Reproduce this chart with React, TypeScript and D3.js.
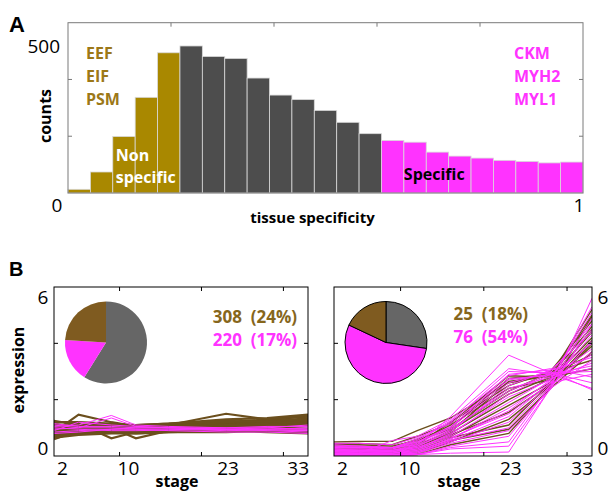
import React, { useEffect, useRef } from "react";
import * as d3 from "d3";

// panel A histogram (23 bins over tissue specificity 0..1)
const binCounts = [13, 74, 199, 337, 494, 518, 481, 474, 405, 345, 329, 291, 249, 209, 185, 179, 144, 130, 123, 115, 111, 106, 109];
const binGroup = ["non", "non", "non", "non", "non", "mid", "mid", "mid", "mid", "mid", "mid", "mid", "mid", "mid", "spec", "spec", "spec", "spec", "spec", "spec", "spec", "spec", "spec"];
const nonGenes = ["EEF", "EIF", "PSM"];
const specGenes = ["CKM", "MYH2", "MYL1"];

// panel B
const stages = [2, 5, 9, 12, 16, 23, 28, 33];
const stageTicks = [10, 20, 30];
const stageLabels = [2, 10, 23, 33];

const leftGold = [
  [1.25, 1.1, 1.05, 1.0, 1.05, 1.15, 1.25, 1.45],
  [0.6, 0.9, 0.95, 0.9, 0.95, 1.05, 1.1, 1.2],
  [0.85, 1.47, 1.2, 1.05, 1.1, 1.2, 1.3, 1.4],
  [1.0, 1.15, 0.63, 0.85, 0.95, 1.1, 1.2, 1.35],
  [0.9, 0.95, 1.0, 0.63, 0.9, 1.05, 1.15, 1.3],
  [1.1, 1.05, 1.1, 1.05, 1.1, 1.5, 1.3, 1.42],
  [0.75, 0.85, 0.9, 0.95, 1.0, 1.0, 1.05, 1.1],
  [1.2, 1.2, 1.15, 1.1, 1.15, 1.3, 1.35, 1.47],
  [0.95, 1.0, 0.95, 0.9, 0.95, 0.95, 1.0, 1.05],
  [0.7, 0.8, 0.85, 0.85, 0.9, 0.9, 0.95, 0.95],
  [1.05, 1.1, 1.1, 1.0, 1.05, 1.2, 1.25, 1.3],
  [0.8, 0.9, 0.85, 0.8, 0.85, 0.85, 0.9, 0.85],
  [1.15, 1.0, 1.05, 1.1, 1.15, 1.25, 1.2, 1.25],
  [0.65, 0.75, 0.8, 0.8, 0.85, 0.9, 0.85, 0.8],
  [1.0, 1.05, 1.0, 0.95, 1.05, 1.1, 1.15, 1.2],
  [0.9, 0.85, 0.95, 1.0, 1.0, 1.05, 1.1, 1.15],
];
const leftPink = [
  [1.05, 1.1, 1.44, 1.1, 1.05, 1.0, 1.05, 1.05],
  [0.95, 1.0, 1.35, 1.05, 1.0, 1.0, 1.0, 0.95],
  [1.15, 1.05, 1.05, 1.0, 1.0, 0.95, 1.0, 1.1],
  [0.85, 0.9, 0.95, 0.95, 0.95, 0.9, 0.92, 0.9],
  [1.0, 0.95, 0.9, 0.9, 0.92, 0.95, 0.95, 1.0],
  [0.9, 1.2, 1.1, 1.05, 1.0, 0.95, 0.9, 0.85],
  [1.1, 1.0, 1.0, 0.95, 0.9, 0.85, 0.85, 0.8],
  [0.8, 0.85, 0.95, 1.0, 1.0, 0.95, 0.95, 0.95],
];
const rightGold = [
  [0.5, 0.52, 0.52, 0.9, 1.35, 2.6, 2.85, 4.6],
  [0.3, 0.3, 0.25, 0.5, 1.1, 2.4, 2.7, 4.2],
  [0.2, 0.2, 0.15, 0.35, 0.9, 2.2, 2.8, 5.0],
  [0.1, 0.1, 0.1, 0.25, 0.8, 2.0, 2.75, 4.4],
  [0.35, 0.35, 0.3, 0.6, 1.0, 2.75, 2.9, 3.6],
  [0.15, 0.15, 0.2, 0.3, 0.7, 1.8, 2.6, 3.9],
  [0.25, 0.25, 0.2, 0.4, 1.2, 2.5, 3.0, 4.8],
  [0.05, 0.05, 0.05, 0.1, 0.5, 1.3, 2.5, 4.0],
  [0.4, 0.4, 0.35, 0.55, 0.95, 2.3, 2.95, 3.4],
  [0.1, 0.1, 0.05, 0.15, 0.55, 0.95, 2.4, 3.7],
  [0.2, 0.2, 0.15, 0.3, 0.85, 2.65, 2.85, 5.2],
  [0.3, 0.25, 0.25, 0.45, 0.75, 1.55, 2.55, 4.1],
  [0.15, 0.15, 0.1, 0.2, 0.65, 1.1, 2.6, 4.5],
  [0.45, 0.45, 0.4, 0.7, 1.15, 2.85, 2.8, 3.1],
  [0.05, 0.05, 0.05, 0.05, 0.4, 0.8, 2.45, 4.95],
];
const rightPink = [
  [0.2, 0.2, 0.2, 0.4, 1.4, 3.58, 2.95, 3.0],
  [0.1, 0.1, 0.55, 0.7, 1.3, 3.1, 2.9, 3.2],
  [0.05, 0.05, 0.05, 0.05, 0.1, 0.14, 2.4, 5.6],
  [0.3, 0.3, 0.3, 0.55, 1.2, 3.0, 2.95, 2.6],
  [0.15, 0.1, 0.1, 0.2, 0.6, 1.6, 2.7, 5.1],
  [0.25, 0.25, 0.25, 0.5, 1.0, 2.9, 3.05, 3.5],
  [0.05, 0.05, 0.05, 0.1, 0.45, 0.9, 2.35, 4.7],
  [0.4, 0.35, 0.3, 0.5, 1.05, 2.7, 2.9, 2.4],
  [0.1, 0.1, 0.05, 0.1, 0.55, 1.4, 2.6, 4.3],
  [0.2, 0.2, 0.15, 0.35, 0.9, 2.4, 2.8, 3.8],
  [0.0, 0.0, 0.0, 0.05, 0.3, 0.5, 2.5, 4.9],
  [0.35, 0.35, 0.3, 0.6, 1.25, 2.85, 3.1, 2.8],
  [0.15, 0.15, 0.1, 0.25, 0.8, 2.1, 2.7, 3.6],
  [0.05, 0.05, 0.05, 0.15, 0.5, 1.2, 2.55, 4.5],
  [0.25, 0.2, 0.2, 0.3, 0.7, 1.9, 2.75, 3.3],
  [0.1, 0.1, 0.1, 0.2, 0.6, 1.7, 2.65, 5.3],
  [0.3, 0.3, 0.25, 0.45, 1.0, 2.6, 3.0, 2.35],
  [0.0, 0.05, 0.05, 0.05, 0.35, 0.7, 2.45, 4.1],
  [0.45, 0.45, 0.4, 0.65, 1.15, 2.75, 2.85, 3.1],
  [0.2, 0.15, 0.15, 0.3, 0.75, 2.2, 2.9, 4.0],
  [0.05, 0.0, 0.0, 0.05, 0.25, 0.35, 2.4, 3.4],
  [0.15, 0.15, 0.15, 0.25, 0.65, 1.5, 2.6, 2.9],
  [0.35, 0.3, 0.3, 0.4, 0.95, 2.3, 2.95, 4.7],
  [0.1, 0.1, 0.1, 0.15, 0.55, 1.0, 2.5, 3.7],
  [0.25, 0.25, 0.2, 0.35, 0.85, 2.5, 3.05, 4.4],
];
// pie slices, clockwise from top: gray, pink, gold
const leftPie = [755, 220, 308];
const rightPie = [38, 76, 25];
const leftCounts = ["308\u00a0\u00a0(24%)", "220\u00a0\u00a0(17%)"];
const rightCounts = ["25\u00a0\u00a0(18%)", "76\u00a0\u00a0(54%)"];

const GOLD_BAR = "#a98800";
const GOLD_TXT = "#9c7818";
const GOLD_B = "#86661c";
const GOLD_PIE = "#7f5b20";
const GOLD_LINE = "#6b4f1d";
const GRAY_BAR = "#4d4d4d";
const GRAY_PIE = "#666666";
const PINK = "#ff33ff";
const FONT = "'Open Sans', 'Noto Sans', sans-serif";

const App: React.FC = () => {
  const svgRef = useRef<SVGSVGElement | null>(null);

  useEffect(() => {
    if (!svgRef.current) return;
    const svg = d3.select(svgRef.current);
    svg.selectAll("*").remove();
    svg.style("font-family", FONT);

    const bold = (sel: any, size: number) =>
      sel.attr("font-weight", "bold").style("font-size", `${size}px`);

    // ---------- panel A ----------
    const xA = d3.scaleLinear().domain([0, 1]).range([68, 583]);
    const yA = d3.scaleLinear().domain([0, 600]).range([193, 22.7]);
    const n = binCounts.length;
    const colorA: Record<string, string> = { non: GOLD_BAR, mid: GRAY_BAR, spec: PINK };

    svg
      .append("g")
      .selectAll("rect")
      .data(binCounts)
      .join("rect")
      .attr("x", (_, i) => xA(i / n))
      .attr("y", (d) => yA(d))
      .attr("width", (_, i) => xA((i + 1) / n) - xA(i / n))
      .attr("height", (d) => yA(0) - yA(d))
      .attr("fill", (_, i) => colorA[binGroup[i]])
      .attr("stroke", "#d9d9d9")
      .attr("stroke-width", 0.8);

    svg
      .append("rect")
      .attr("x", xA(0))
      .attr("y", yA(600))
      .attr("width", xA(1) - xA(0))
      .attr("height", yA(0) - yA(600))
      .attr("fill", "none")
      .attr("stroke", "#7a7a7a")
      .attr("stroke-width", 1);

    [0.2, 0.4, 0.6, 0.8].forEach((t) => {
      svg.append("line").attr("x1", xA(t)).attr("x2", xA(t)).attr("y1", yA(600)).attr("y2", yA(600) + 4).attr("stroke", "#7a7a7a");
    });
    [200, 400].forEach((t) => {
      svg.append("line").attr("x1", xA(0)).attr("x2", xA(0) + 4).attr("y1", yA(t)).attr("y2", yA(t)).attr("stroke", "#7a7a7a");
      svg.append("line").attr("x1", xA(1)).attr("x2", xA(1) - 4).attr("y1", yA(t)).attr("y2", yA(t)).attr("stroke", "#7a7a7a");
    });

    bold(svg.append("text").attr("x", 9).attr("y", 32).attr("font-family", "'Liberation Sans', Arial, sans-serif"), 22).text("A");
    svg.append("text").attr("x", xA(0) - 8).attr("y", yA(518) + 7).attr("text-anchor", "end").style("font-size", "19px").text("500");
    svg.append("text").attr("x", xA(0) - 11).attr("y", 212).attr("text-anchor", "middle").style("font-size", "19px").text("0");
    svg.append("text").attr("x", xA(1) - 4).attr("y", 212).attr("text-anchor", "middle").style("font-size", "19px").text("1");
    bold(svg.append("text").attr("x", (xA(0) + xA(1)) / 2 - 13).attr("y", 223).attr("text-anchor", "middle"), 15).text("tissue specificity");
    bold(svg.append("text").attr("transform", "translate(51,116) rotate(-90)").attr("text-anchor", "middle"), 16).text("counts");

    nonGenes.forEach((g, i) => {
      bold(svg.append("text").attr("x", 86).attr("y", 59 + i * 23).attr("fill", GOLD_TXT), 16).text(g);
    });
    specGenes.forEach((g, i) => {
      bold(svg.append("text").attr("x", 514).attr("y", 59 + i * 23).attr("fill", PINK), 16).text(g);
    });
    bold(svg.append("text").attr("x", xA(2 / n) + 3).attr("y", 161).attr("fill", "white"), 16).text("Non");
    bold(svg.append("text").attr("x", xA(2 / n) + 3).attr("y", 183).attr("fill", "white"), 16).text("specific");
    bold(svg.append("text").attr("x", xA(15 / n)).attr("y", 180).attr("fill", "black"), 16).text("Specific");

    // ---------- panel B ----------
    bold(svg.append("text").attr("x", 9).attr("y", 276).attr("font-family", "'Liberation Sans', Arial, sans-serif"), 20).text("B");

    const yB = d3.scaleLinear().domain([0, 6]).range([456, 287]);
    const pieGen = d3.pie<number>().sort(null).value((d) => d);
    const arcGen = d3.arc<d3.PieArcDatum<number>>().innerRadius(0).outerRadius(41);
    const pieColors = [GRAY_PIE, PINK, GOLD_PIE];

    const drawPanel = (
      id: string,
      x: d3.ScaleLinear<number, number>,
      gold: number[][],
      pink: number[][],
      pie: number[],
      counts: string[],
      rightAxis: boolean,
      goldWidth: number,
      countsEnd: number
    ) => {
      const [x0, x1] = x.range();
      const g = svg.append("g");
      g.append("clipPath").attr("id", id).append("rect").attr("x", x0).attr("y", yB(6)).attr("width", x1 - x0).attr("height", yB(0) - yB(6));

      const line = d3
        .line<number>()
        .x((_, i) => x(stages[i]))
        .y((d) => yB(d));
      const lines = g.append("g").attr("clip-path", `url(#${id})`);
      lines.selectAll("path.gold").data(gold).join("path").attr("class", "gold").attr("d", line).attr("fill", "none").attr("stroke", GOLD_LINE).attr("stroke-width", goldWidth);
      lines.selectAll("path.pink").data(pink).join("path").attr("class", "pink").attr("d", line).attr("fill", "none").attr("stroke", PINK).attr("stroke-width", 1);

      g.append("rect").attr("x", x0).attr("y", yB(6)).attr("width", x1 - x0).attr("height", yB(0) - yB(6)).attr("fill", "none").attr("stroke", "black").attr("stroke-width", 1);
      stageTicks.forEach((t) => {
        g.append("line").attr("x1", x(t)).attr("x2", x(t)).attr("y1", yB(6)).attr("y2", yB(6) + 4).attr("stroke", "black");
        g.append("line").attr("x1", x(t)).attr("x2", x(t)).attr("y1", yB(0)).attr("y2", yB(0) - 4).attr("stroke", "black");
      });
      [2, 4].forEach((t) => {
        g.append("line").attr("x1", x0).attr("x2", x0 + 4).attr("y1", yB(t)).attr("y2", yB(t)).attr("stroke", "black");
        g.append("line").attr("x1", x1).attr("x2", x1 - 4).attr("y1", yB(t)).attr("y2", yB(t)).attr("stroke", "black");
      });

      // stage labels
      const anchors = ["start", "start", "middle", "end"];
      const offs = [3, -2, 2, 1];
      stageLabels.forEach((s, i) => {
        g.append("text").attr("x", x(s) + offs[i]).attr("y", 475).attr("text-anchor", anchors[i]).style("font-size", "19px").text(s);
      });
      bold(g.append("text").attr("x", (x0 + x1) / 2 - 4).attr("y", 487).attr("text-anchor", "middle"), 16).text("stage");

      // y labels
      const yx = rightAxis ? x1 + 11 : x0 - 11;
      g.append("text").attr("x", yx).attr("y", yB(6) + 17).attr("text-anchor", "middle").style("font-size", "19px").text("6");
      g.append("text").attr("x", yx).attr("y", yB(0) - 1).attr("text-anchor", "middle").style("font-size", "19px").text("0");

      // pie
      const cx = x0 + 52;
      const pg = g.append("g").attr("transform", `translate(${cx},342.5)`);
      pg.selectAll("path")
        .data(pieGen(pie))
        .join("path")
        .attr("d", arcGen)
        .attr("fill", (_, i) => pieColors[i])
        .attr("stroke", rightAxis ? "black" : "none")
        .attr("stroke-width", 1);

      counts.forEach((c, i) => {
        bold(
          g.append("text")
            .attr("x", countsEnd)
            .attr("y", (rightAxis ? 320 : 323) + i * 22.5)
            .attr("text-anchor", "end")
            .attr("fill", i === 0 ? GOLD_B : PINK),
          17
        ).text(c);
      });
    };

    const xL = d3.scaleLinear().domain([2, 33]).range([54, 308]);
    const xR = d3.scaleLinear().domain([2, 33]).range([334, 592]);
    drawPanel("clipL", xL, leftGold, leftPink, leftPie, leftCounts, false, 2.2, 297);
    drawPanel("clipR", xR, rightGold, rightPink, rightPie, rightCounts, true, 1.4, 528);

    bold(svg.append("text").attr("transform", "translate(24,370) rotate(-90)").attr("text-anchor", "middle"), 16).text("expression");
  }, []);

  return (
    <svg
      ref={svgRef}
      width={608}
      height={492}
      style={{ position: "absolute", left: 0, top: 0, background: "white" }}
    />
  );
};

export default App;
